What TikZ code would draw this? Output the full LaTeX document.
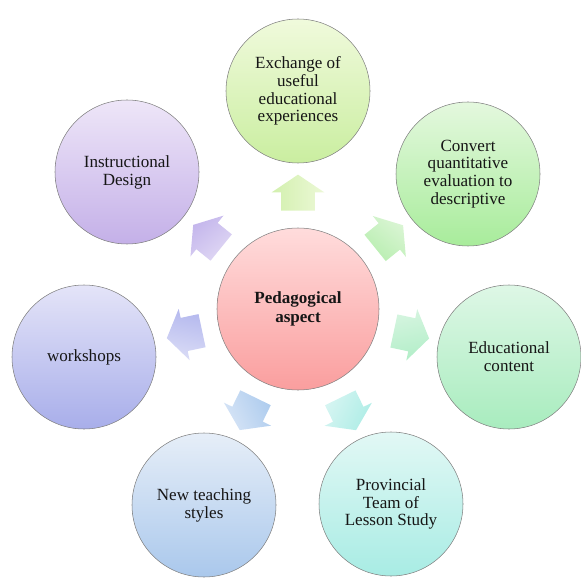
\documentclass[tikz,border=0pt]{standalone}
\usepackage{fontspec}
\setmainfont{Liberation Serif}
\usetikzlibrary{shapes.arrows,calc}
\definecolor{rim}{HTML}{808080}
\definecolor{ink}{HTML}{161616}
\tikzstyle{topic}=[draw=rim, thin, circle, minimum size=108pt, inner sep=0pt, align=center, text=ink, font=\fontsize{12.8}{13.4}\selectfont]
\tikzstyle{hub}=[topic, minimum size=121.5pt, font=\bfseries\fontsize{12.8}{13.8}\selectfont]
\tikzstyle{push}=[single arrow, draw=none, minimum height=27pt, minimum width=39pt, single arrow head extend=7pt, single arrow tip angle=112, inner xsep=0pt, inner ysep=12.5pt]
% #1 name, #2 target node, #3 direction, #4 top colour, #5 bottom colour
\newcommand{\pusharrow}[5]{
  \node[push, rotate=#3, top color=#4, bottom color=#5, shading angle=-#3] (#1) at ($(aspect)!83pt!(#2)$) {};
}

\begin{document}
\begin{tikzpicture}[x=0.75pt, y=0.75pt]
    \useasboundingbox (0, 0) rectangle (581, 579);
    \node[hub, top color={rgb,255:red,255;green,220;blue,220}, bottom color={rgb,255:red,250;green,158;blue,158}] (aspect) at (298, 270) {Pedagogical\\aspect};
    \node[topic, top color={rgb,255:red,240;green,250;blue,220}, bottom color={rgb,255:red,202;green,238;blue,160}] (exchange) at (298, 488) {Exchange of\\useful\\educational\\experiences};
    \node[topic, top color={rgb,255:red,228;green,248;blue,222}, bottom color={rgb,255:red,168;green,236;blue,155}] (convert) at (468, 405) {Convert\\quantitative\\evaluation to\\descriptive};
    \node[topic, top color={rgb,255:red,222;green,247;blue,230}, bottom color={rgb,255:red,168;green,236;blue,190}] (content) at (509, 222) {Educational\\content};
    \node[topic, top color={rgb,255:red,226;green,248;blue,245}, bottom color={rgb,255:red,168;green,236;blue,228}] (team) at (391, 75) {Provincial\\Team of\\Lesson Study};
    \node[topic, top color={rgb,255:red,230;green,238;blue,248}, bottom color={rgb,255:red,170;green,200;blue,236}] (styles) at (204, 74) {New teaching\\styles};
    \node[topic, top color={rgb,255:red,228;green,228;blue,248}, bottom color={rgb,255:red,168;green,174;blue,234}] (workshops) at (84, 222) {workshops};
    \node[topic, top color={rgb,255:red,238;green,230;blue,248}, bottom color={rgb,255:red,196;green,176;blue,232}] (design) at (127, 407) {Instructional\\Design};
    \pusharrow{toexchange}{exchange}{90}{{rgb,255:red,236;green,248;blue,214}}{{rgb,255:red,210;green,240;blue,174}}
    \pusharrow{toconvert}{convert}{39}{{rgb,255:red,218;green,245;blue,212}}{{rgb,255:red,184;green,238;blue,176}}
    \pusharrow{tocontent}{content}{-12}{{rgb,255:red,214;green,245;blue,224}}{{rgb,255:red,178;green,238;blue,200}}
    \pusharrow{toteam}{team}{-64}{{rgb,255:red,214;green,245;blue,242}}{{rgb,255:red,174;green,237;blue,230}}
    \pusharrow{tostyles}{styles}{-116}{{rgb,255:red,214;green,228;blue,246}}{{rgb,255:red,174;green,204;blue,238}}
    \pusharrow{toworkshops}{workshops}{-168}{{rgb,255:red,218;green,220;blue,246}}{{rgb,255:red,180;green,184;blue,238}}
    \pusharrow{todesign}{design}{141}{{rgb,255:red,224;green,216;blue,244}}{{rgb,255:red,196;green,182;blue,236}}
\end{tikzpicture}
\end{document}
